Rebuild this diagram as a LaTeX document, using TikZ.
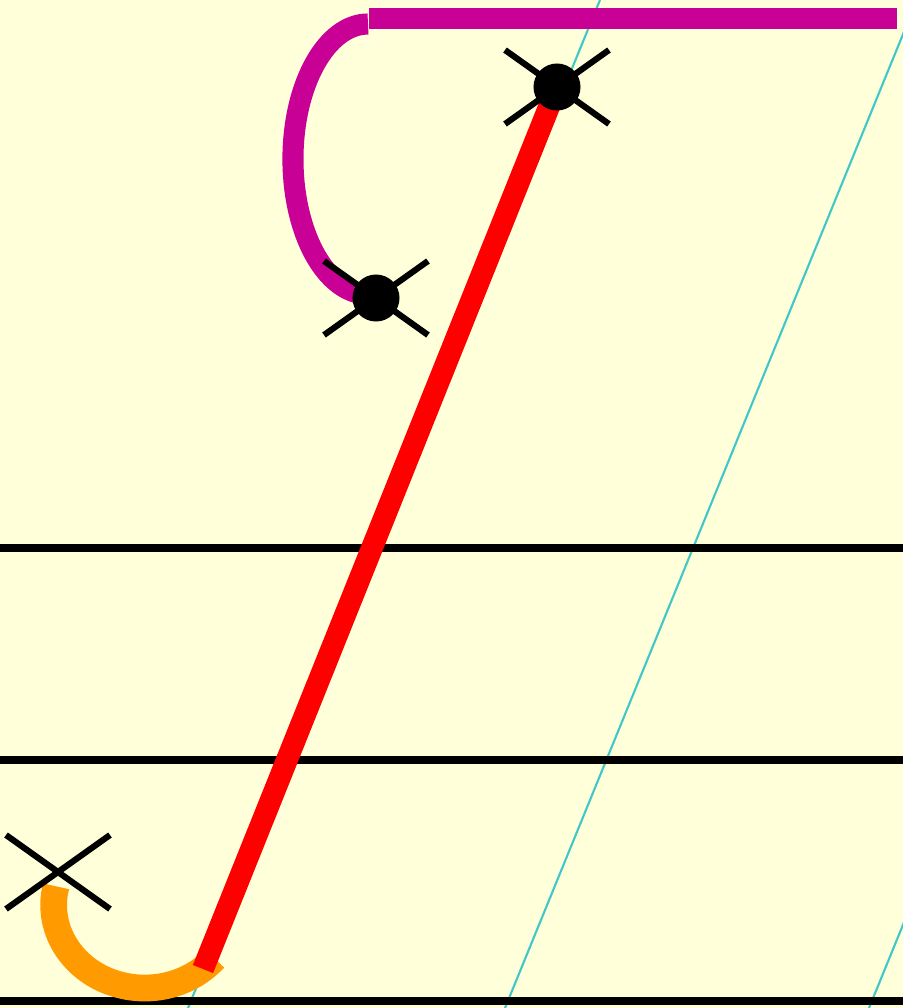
\documentclass[tikz,border=0pt]{standalone}
\usetikzlibrary{calc}
\begin{document}
\begin{tikzpicture}[x=0.01cm,y=-0.01cm,
  guide/.style={draw=guidecyan,line width=0.6pt},
  rule/.style={draw=black,line width=2.2pt},
  crossmark/.style={draw=black,line width=1.75pt},
  dotmark/.style={fill=black},
]
\definecolor{bgyellow}{RGB}{255,255,218}
\definecolor{guidecyan}{RGB}{64,200,200}
\definecolor{strokemag}{RGB}{200,0,150}
\definecolor{strokeorange}{RGB}{255,155,0}
\definecolor{strokered}{RGB}{255,0,0}
\useasboundingbox (0,0) rectangle (903,1008);
\fill[bgyellow] (0,0) rectangle (903,1008);
\begin{scope}
\clip (0,0) rectangle (903,1008);
% slanted guide lines
\draw[guide] (600,0) -- (188,1008);
\draw[guide] (917,0) -- (505,1008);
\draw[guide] (1281,0) -- (869,1008);
% horizontal rules
\draw[rule] (0,548) -- (903,548);
\draw[rule] (0,760) -- (903,760);
\draw[rule] (0,1001) -- (903,1001);
\end{scope}
% key points
\coordinate (top) at (557,87);
\coordinate (mid) at (376,298);
\coordinate (low) at (58,872);
\coordinate (redend) at (203,969);
% magenta bar and hook
\draw[strokemag,line width=6pt] (369,18.5) -- (897,18.5);
\draw[strokemag,line width=6pt] (368,24) arc[start angle=90,end angle=262,x radius=0.75cm,y radius=1.35cm];
% orange hook
\draw[strokeorange,line width=7.6pt] (56,886.3) arc[start angle=167,end angle=320,x radius=0.91cm,y radius=0.83cm];
% red stroke
\draw[strokered,line width=6.2pt] (top) -- (redend);
% crosses
\foreach \p in {top,mid,low}{
  \draw[crossmark] ($(\p)+(-52,-37)$) -- ($(\p)+(52,37)$);
  \draw[crossmark] ($(\p)+(-52,37)$) -- ($(\p)+(52,-37)$);
}
% dots
\fill[dotmark] (top) circle[radius=0.235cm];
\fill[dotmark] (mid) circle[radius=0.235cm];
\end{tikzpicture}
\end{document}
